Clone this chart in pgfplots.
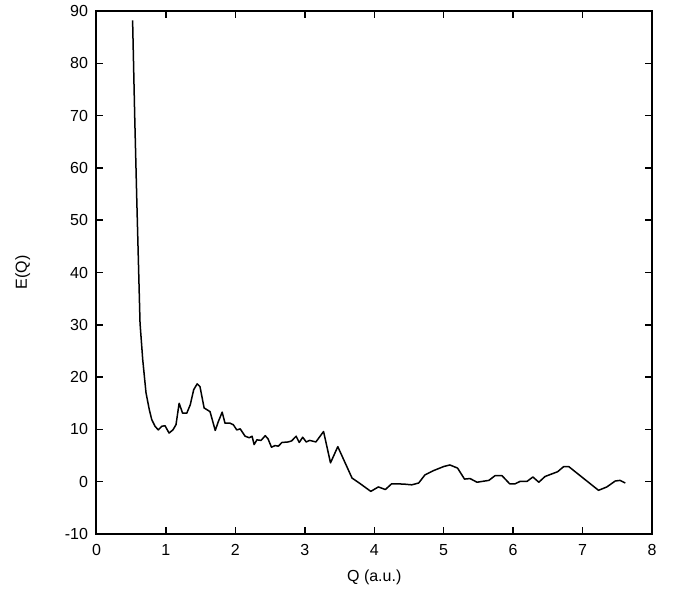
\documentclass[border=0pt]{standalone}
\usepackage{fontspec}
\setmainfont{Liberation Sans}
\usepackage{pgfplots}
\pgfplotsset{compat=1.18}

\pgfplotstableread{
x y
0.52 88.2
0.55 70.0
0.58 54.0
0.627 30.3
0.666 23.3
0.713 17.0
0.76 13.8
0.795 11.9
0.843 10.6
0.89 9.9
0.94 10.6
0.987 10.7
1.045 9.3
1.10 9.9
1.145 10.9
1.19 15.0
1.24 13.1
1.30 13.1
1.35 14.7
1.40 17.6
1.45 18.7
1.49 18.2
1.55 14.1
1.635 13.4
1.71 9.8
1.755 11.5
1.81 13.3
1.85 11.2
1.92 11.2
1.97 10.9
2.02 9.9
2.07 10.1
2.14 8.7
2.20 8.4
2.24 8.7
2.27 7.1
2.31 8.0
2.37 7.9
2.43 8.8
2.47 8.2
2.52 6.6
2.57 6.9
2.62 6.8
2.67 7.5
2.76 7.6
2.81 7.8
2.875 8.7
2.92 7.5
2.97 8.5
3.02 7.6
3.07 7.9
3.16 7.6
3.27 9.6
3.37 3.6
3.475 6.7
3.68 0.7
3.80 -0.4
3.95 -1.85
4.06 -1.0
4.16 -1.5
4.25 -0.4
4.42 -0.45
4.54 -0.6
4.64 -0.25
4.73 1.3
4.85 2.1
5.00 2.9
5.09 3.2
5.20 2.6
5.30 0.5
5.38 0.6
5.48 -0.1
5.65 0.25
5.74 1.15
5.84 1.15
5.95 -0.4
6.03 -0.4
6.10 0.06
6.20 0.06
6.285 0.9
6.37 -0.1
6.46 1.0
6.56 1.5
6.64 1.9
6.73 2.9
6.80 2.9
7.23 -1.65
7.35 -1.0
7.47 0.13
7.54 0.25
7.615 -0.25
}\eq

\newcommand{\lblfont}{\fontsize{16bp}{19bp}\selectfont}

\begin{document}
\begin{tikzpicture}
\begin{axis}[
    name=ax,
    scale only axis,
    width=555.5bp, height=523bp,
    xmin=0, xmax=8, ymin=-10, ymax=90,
    xtick={0,1,...,8}, ytick={-10,0,...,90},
    tick align=inside,
    major tick length=7bp,
    axis line style={line width=2bp},
    every tick/.style={line width=1.5bp, black},
    /pgf/number format/assume math mode=true,
    tick label style={font=\lblfont},
    label style={font=\lblfont},
    xticklabel style={yshift=-7bp},
    yticklabel style={xshift=-5bp},
    xlabel={Q (a.u.)}, ylabel={E(Q)},
    every axis x label/.style={at={(axis description cs:0.5,-0.083)}, anchor=center, font=\lblfont},
    every axis y label/.style={at={(axis description cs:-0.133,0.5)}, anchor=center, rotate=90, font=\lblfont},
]
\addplot[black, line width=1.5bp, line join=round] table[x=x, y=y] {\eq};
\end{axis}
\path ([shift={(-96.5bp,-59bp)}]ax.south west) rectangle ([shift={(21bp,11bp)}]ax.north east);
\end{tikzpicture}
\end{document}
